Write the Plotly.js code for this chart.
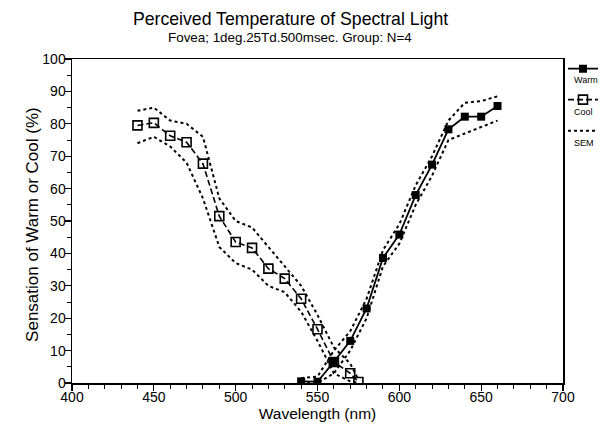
<!DOCTYPE html>
<html>
<head>
<meta charset="utf-8">
<script src="https://cdn.plot.ly/plotly-3.0.1.min.js"></script>
<style>html,body{margin:0;padding:0;background:#fff}#chart{width:612px;height:426px}</style>
</head>
<body>
<div id="chart"></div>
<script>
// Cool sensation
const coolWl = [440, 450, 460, 470, 480, 490, 500, 510, 520, 530, 540, 550, 560, 570, 575];
const coolVal = [79.5, 80.3, 76.3, 74.3, 67.7, 51.5, 43.5, 41.7, 35.3, 32.2, 26, 16.6, 6.5, 3, 0.3];
const coolSemUp = [84, 85, 81, 80, 76, 57, 50, 48, 42, 36, 30, 21, 11, 6, 1];
const coolSemLo = [74, 76, 73, 68, 57, 42, 37, 35, 30, 28, 22, 13, 3, 0.5, 0];
// Warm sensation
const warmWl = [540, 550, 560, 570, 580, 590, 600, 610, 620, 630, 640, 650, 660];
const warmVal = [0.5, 0.4, 6.5, 13, 23, 38.6, 45.8, 58, 67.4, 78.3, 82.2, 82.2, 85.5];
const warmSemUp = [1.5, 2, 10, 16, 26, 41, 49, 61, 70, 81, 86.5, 87, 88.5];
const warmSemLo = [0, 0, 3, 10, 20, 36, 43, 55, 64, 75, 77, 79, 81];

const xTicks = [400, 450, 500, 550, 600, 650, 700];
const yTicks = [0, 10, 20, 30, 40, 50, 60, 70, 80, 90, 100];
const legendLabels = ['Warm', 'Cool', 'SEM'];

const FONT = 'Liberation Sans, Arial, sans-serif';
const semStyle = {color: '#000', width: 2, dash: 'dot'};

const traces = [
  {x: warmWl, y: warmVal, mode: 'lines+markers', name: ' ', legendgroup: 'w',
   line: {color: '#000', width: 1.8}, marker: {symbol: 'square', size: 8, color: '#000'}},
  {x: coolWl, y: coolVal, mode: 'lines+markers', name: ' ', legendgroup: 'c',
   line: {color: '#000', width: 1.6, dash: '6px,3px'},
   marker: {symbol: 'square-open', size: 9, color: '#000', line: {width: 1.6}}},
  {x: coolWl, y: coolSemUp, mode: 'lines', name: ' ', legendgroup: 's', line: semStyle},
  {x: coolWl, y: coolSemLo, mode: 'lines', name: ' ', legendgroup: 's', line: semStyle, showlegend: false},
  {x: warmWl, y: warmSemUp, mode: 'lines', name: ' ', legendgroup: 's', line: semStyle, showlegend: false},
  {x: warmWl, y: warmSemLo, mode: 'lines', name: ' ', legendgroup: 's', line: semStyle, showlegend: false}
];

const labelY = [0.935, 0.836, 0.741];
const annotations = legendLabels.map((t, i) => ({
  text: t, xref: 'paper', yref: 'paper', x: 1.018, y: labelY[i],
  xanchor: 'left', yanchor: 'middle', showarrow: false,
  font: {family: FONT, size: 9, color: '#000'}
}));
annotations.push({
  text: 'Fovea; 1deg.25Td.500msec. Group: N=4', xref: 'paper', yref: 'paper',
  x: 0.445, y: 1.066, xanchor: 'center', yanchor: 'middle', showarrow: false,
  font: {family: FONT, size: 13.4, color: '#000'}
});
annotations.push({
  text: 'Sensation of Warm or Cool (%)', xref: 'paper', yref: 'paper',
  x: -0.0794, y: 0.488, xanchor: 'center', yanchor: 'middle', textangle: -90, showarrow: false,
  font: {family: FONT, size: 17, color: '#000'}
});

const layout = {
  width: 612, height: 426,
  margin: {l: 72, r: 49, t: 59, b: 43, autoexpand: false},
  paper_bgcolor: '#fff', plot_bgcolor: '#fff',
  font: {family: FONT, color: '#000'},
  title: {
    text: 'Perceived Temperature of Spectral Light',
    font: {size: 17.7, color: '#000'},
    x: 0.4747, xref: 'container', xanchor: 'center',
    y: 0.955, yref: 'container', yanchor: 'middle'
  },
  xaxis: {
    range: [400, 700], tickvals: xTicks, ticktext: xTicks.map(String),
    ticks: 'outside', ticklen: 6, tickwidth: 1.2, tickcolor: '#000',
    minor: {dtick: 10, ticks: 'outside', ticklen: 4, tickcolor: '#000', tickwidth: 1},
    showline: true, linecolor: '#000', linewidth: 1.5, mirror: true,
    showgrid: false, zeroline: false, ticklabelstandoff: -5,
    tickfont: {size: 14, color: '#000'},
    title: {text: 'Wavelength (nm)', font: {size: 15.5, color: '#000'}, standoff: 0}
  },
  yaxis: {
    range: [0, 100], tickvals: yTicks, ticktext: yTicks.map(String),
    ticks: 'outside', ticklen: 6, tickwidth: 1.2, tickcolor: '#000',
    minor: {dtick: 5, ticks: 'outside', ticklen: 4, tickcolor: '#000', tickwidth: 1},
    showline: true, linecolor: '#000', linewidth: 1.5, mirror: true,
    showgrid: false, zeroline: false, ticklabelstandoff: -4,
    tickfont: {size: 14, color: '#000'}
  },
  showlegend: true,
  legend: {
    x: 1.0, xanchor: 'left', y: 1.015, yanchor: 'top',
    bgcolor: 'rgba(0,0,0,0)', borderwidth: 0,
    traceorder: 'grouped', tracegroupgap: 12,
    font: {size: 10}, itemwidth: 30
  },
  annotations: annotations
};

Plotly.newPlot('chart', traces, layout, {displayModeBar: false, staticPlot: true});
</script>
</body>
</html>
